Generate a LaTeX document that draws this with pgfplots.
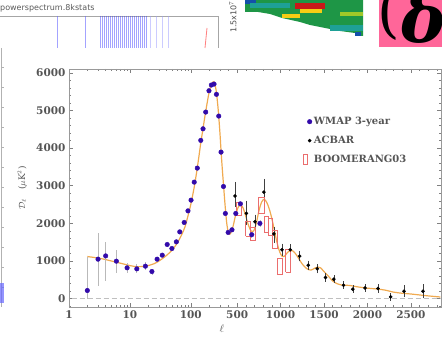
\documentclass[border=0pt]{standalone}
\usepackage{amsmath}
\usepackage{pgfplots}
\pgfplotsset{compat=1.18}
\usepackage{fontspec}
\setmainfont{DejaVu Serif}
\setsansfont{DejaVu Sans}
\definecolor{wmap}{RGB}{50,10,170}
\definecolor{theory}{RGB}{240,170,80}
\definecolor{boom}{RGB}{235,110,110}
\definecolor{txt}{RGB}{85,85,85}
\definecolor{pinkbox}{RGB}{255,102,153}
\definecolor{hgreen}{RGB}{30,150,70}
\definecolor{hteal}{RGB}{30,160,150}
\definecolor{hred}{RGB}{200,25,25}
\definecolor{hyel}{RGB}{245,205,20}
\definecolor{hblue}{RGB}{20,80,170}
\definecolor{hlime}{RGB}{160,200,40}
\begin{document}
\begin{tikzpicture}
\useasboundingbox (0pt,0pt) rectangle (442pt,337pt);
\begin{scope}[x=1pt,y=1pt]
\clip (0,0) rectangle (442,337);
% background collage (decoration)
\node[anchor=west, inner sep=0, font=\sffamily\fontsize{8}{8}\selectfont, text=gray!70!black] at (0,328.5) {powerspectrum.8kstats};
\draw[gray!70, line width=0.6pt] (0,321) -- (218,321) -- (218,289);
\foreach \xx in {57,85} \draw[blue!60, line width=0.8pt, opacity=0.6] (\xx,321) -- (\xx,289);
\foreach \xx in {100,102,...,146} \draw[blue!80, line width=0.6pt, opacity=0.45] (\xx,321) -- (\xx,289);
\foreach \xx in {150,156,...,172} \draw[blue!40, line width=0.5pt, opacity=0.5] (\xx,321) -- (\xx,289);
\draw[red!50, line width=0.8pt] (207,309) -- (205,289);
\draw[gray!60, line width=0.6pt] (1.5,289) -- (1.5,30);
\foreach \yy in {50,70,...,280} \draw[gray!60, line width=0.5pt] (1.5,\yy) -- (4,\yy);
\fill[blue!60, opacity=0.7] (0,34) rectangle (4,54);
\node[rotate=90, inner sep=0, font=\sffamily\fontsize{8}{8}\selectfont, text=gray!60!black] at (233,320) {1.5x10$^7$};
\fill[hgreen] (245,337) -- (363,337) -- (363,301) -- (355,301) -- (355,304) -- (340,306) -- (325,309) -- (310,312) -- (300,315) -- (282,319) -- (270,323) -- (258,325) -- (245,325) -- cycle;
\fill[hblue] (245,337) rectangle (256,333);
\fill[hteal] (250,334) rectangle (290,329);
\fill[hred] (295,334) rectangle (325,328);
\fill[hyel] (300,328) rectangle (322,324);
\fill[hyel] (282,323) rectangle (300,319);
\fill[hlime] (340,325) rectangle (363,321);
\fill[hteal] (330,312) rectangle (363,306);
\fill[hblue] (355,305) rectangle (361,301);
\fill[pinkbox] (379,290) rectangle (442,337);
\begin{scope}
\clip (379,290) rectangle (442,337);
\node[anchor=base west, inner sep=0] at (377,305) {\fontsize{58}{58}\selectfont (};
\node[anchor=base west, inner sep=0] at (401,294) {\fontsize{68}{68}\selectfont\bfseries\itshape δ};
\end{scope}
\end{scope}
\begin{axis}[
  scale only axis, width=372pt, height=238pt,
  at={(69pt,30pt)}, anchor=south west,
  x coord trafo/.code={\pgfmathparse{ifthenelse(#1<300,61*log10(#1),125+0.087*#1)}},
  xmin=1, xmax=2847, ymin=-220, ymax=6100,
  xtick={1,10,100,500,1000,1500,2000,2500},
  xticklabels={1,10,100,500,1000,1500,2000,2500},
  minor xtick={2,3,4,5,6,7,8,9,20,30,40,50,60,70,80,90,200,300,400,600,700,800,900,1100,1200,1300,1400,1600,1700,1800,1900,2100,2200,2300,2400,2600,2700,2800},
  ytick={0,1000,2000,3000,4000,5000,6000},
  minor ytick={-200,200,400,600,800,1200,1400,1600,1800,2200,2400,2600,2800,3200,3400,3600,3800,4200,4400,4600,4800,5200,5400,5600,5800},
  /pgf/number format/1000 sep={},
  /pgf/number format/assume math mode=true,
  tick align=inside,
  major tick length=4pt, minor tick length=2pt,
  tick style={gray, line width=0.5pt},
  axis line style={gray!80, line width=0.7pt},
  ticklabel style={font=\bfseries\fontsize{10.5}{10.5}\selectfont, text=txt},
  xlabel={$\ell$},
  xlabel style={at={(axis description cs:0.411,-0.09)}, anchor=center, text=txt, font=\fontsize{11}{11}\selectfont},
  ylabel={$\mathcal{D}_\ell$\quad($\mu$K$^2$)},
  ylabel style={at={(axis description cs:-0.126,0.5)}, anchor=center, text=txt, font=\fontsize{9}{9}\selectfont},
  legend style={at={(axis description cs:0.62,0.815)}, anchor=north west, draw=none, fill=none,
    font=\bfseries\fontsize{10}{10}\selectfont, text=txt, row sep=6pt},
  legend cell align=left,
]
\addplot[gray!50, line width=1pt, dash pattern=on 5pt off 3pt, forget plot] coordinates {(1.1,0) (2847,0)};
\addplot[theory, line width=1.2pt, smooth, tension=0.5, forget plot] coordinates {
(2,1120) (3,1080) (4,1040) (5,1000) (6,970) (8,920) (10,880) (13,850) (17,860) (20,880) (25,930) (30,1000) (40,1150) (50,1300) (60,1480) (70,1680) (80,1900) (90,2200) (100,2500) (115,3000) (130,3550) (145,4100) (160,4550) (175,4950) (200,5480) (220,5700) (240,5760) (260,5550) (280,5080) (300,4450) (315,3900) (330,3400) (345,2950) (360,2500) (380,2000) (400,1750) (420,1720) (450,1900) (480,2200) (510,2420) (540,2490) (570,2400) (600,2180) (630,1950) (660,1800) (690,1800) (720,2000) (750,2330) (780,2560) (810,2640) (840,2560) (870,2380) (900,2120) (930,1800) (960,1480) (990,1240) (1020,1120) (1050,1140) (1080,1230) (1110,1280) (1140,1270) (1170,1200) (1200,1100) (1250,920) (1300,800) (1350,760) (1400,820) (1430,840) (1460,820) (1500,720) (1550,600) (1600,470) (1650,400) (1700,365) (1750,360) (1800,350) (1900,310) (2000,280) (2100,260) (2200,230) (2300,175) (2400,145) (2500,125) (2600,100) (2700,75) (2840,45)};
\addplot[only marks, mark=*, mark size=2.3pt, color=wmap,
  error bars/.cd, y dir=both, y explicit, error mark=none,
  error bar style={gray!55, line width=0.8pt}]
  table[x=l, y=v, y error plus=ep, y error minus=em] {
l v ep em
2 218 880 218
3 1050 700 710
4 1137 373 664
6 997 293 311
9 820 140 150
13 793 120 120
18 864 100 100
23 722 80 80
28 1050 70 70
34 1156 60 60
41 1440 50 50
49 1333 50 50
58 1510 50 50
66 1775 50 50
78 2025 50 50
90 2333 50 50
101 2617 50 50
114 3096 50 50
128 3468 50 50
146 4204 50 50
159 4512 50 50
176 4956 50 50
199 5522 50 50
218 5674 50 50
241 5700 50 50
264 5427 50 50
288 4850 50 50
314 3893 50 50
342 2980 50 50
364 2264 50 50
396 1760 50 50
440 1830 50 50
484 2264 60 60
537 2520 60 60
668 1700 80 80
762 2000 100 100
};
\addlegendentry{WMAP 3-year}
\addplot[only marks, mark=*, mark size=1.6pt, color=black,
  error bars/.cd, y dir=both, y explicit, error mark=-,
  error mark options={gray!50!black, mark size=1.5pt, line width=0.6pt},
  error bar style={gray!50!black, line width=0.6pt}]
  table[x=l, y=v, y error plus=ep, y error minus=em] {
l v ep em
475 2730 330 245
606 2264 300 260
705 2041 150 150
808 2830 310 220
923 1720 150 200
1015 1300 120 120
1110 1300 100 100
1220 1130 100 100
1318 890 80 80
1422 795 80 80
1517 563 70 70
1613 518 60 60
1725 359 60 60
1832 252 60 60
1972 287 60 60
2121 271 70 70
2268 48 60 60
2422 199 120 120
2640 199 150 150
};
\addlegendentry{ACBAR}
\addplot[boom, line width=0.6pt, legend image code/.code={\draw[boom, line width=0.6pt] (2pt,-5pt) rectangle (6pt,5pt);}]
  coordinates {(490,2220) (550,2220) (550,2550) (490,2550) (490,2220)};
\addlegendentry{BOOMERANG03}
\addplot[boom, line width=0.6pt, forget plot] coordinates {(598,1670) (655,1670) (655,2050) (598,2050) (598,1670)};
\addplot[boom, line width=0.6pt, forget plot] coordinates {(655,1540) (710,1540) (710,1900) (655,1900) (655,1540)};
\addplot[boom, line width=0.6pt, forget plot] coordinates {(745,2264) (808,2264) (808,2705) (745,2705) (745,2264)};
\addplot[boom, line width=0.6pt, forget plot] coordinates {(808,1775) (862,1775) (862,2200) (808,2200) (808,1775)};
\addplot[boom, line width=0.6pt, forget plot] coordinates {(860,1680) (910,1680) (910,2140) (860,2140) (860,1680)};
\addplot[boom, line width=0.6pt, forget plot] coordinates {(905,1330) (965,1330) (965,1820) (905,1820) (905,1330)};
\addplot[boom, line width=0.6pt, forget plot] coordinates {(958,640) (1019,640) (1019,1080) (958,1080) (958,640)};
\addplot[boom, line width=0.6pt, forget plot] coordinates {(1057,712) (1115,712) (1115,1307) (1057,1307) (1057,712)};
\end{axis}
\end{tikzpicture}
\end{document}
